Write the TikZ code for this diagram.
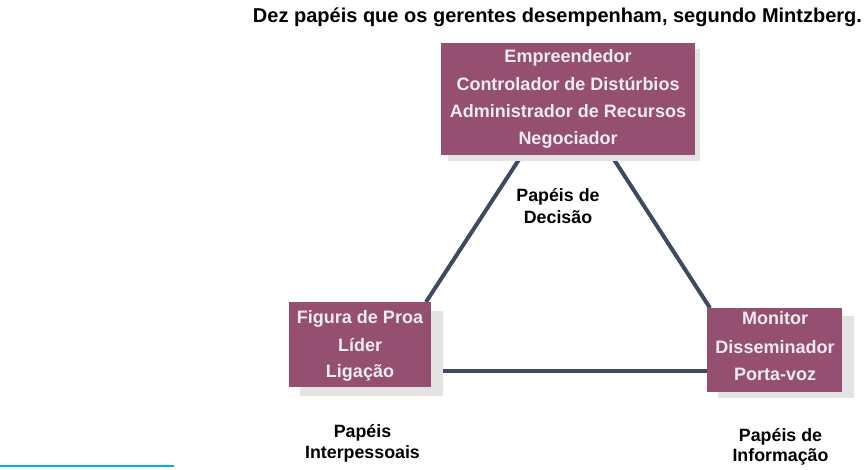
\documentclass[tikz,border=0pt]{standalone}
\usepackage{fontspec}
\setmainfont{Liberation Sans}
\definecolor{plum}{HTML}{954F70}
\definecolor{shade}{HTML}{E3E3E3}
\definecolor{edge}{HTML}{3E4B5F}
\definecolor{txt}{HTML}{EEECEE}
\definecolor{cyanline}{HTML}{00B0F0}
\begin{document}
\begin{tikzpicture}[x=1pt,y=-1pt,
  role/.style={fill=plum,draw=none},
  shadowbox/.style={fill=shade,draw=none},
  roletext/.style={text=txt,font=\bfseries\fontsize{18}{21}\selectfont,inner sep=0pt,anchor=base},
  grp/.style={text=black,font=\bfseries\fontsize{17.8}{21}\selectfont,inner sep=0pt,anchor=base},
  link/.style={draw=edge,line width=4pt}]
\useasboundingbox (0,0) rectangle (866,470);
% title
\node[font=\bfseries\fontsize{20}{24}\selectfont,inner sep=0pt,anchor=base] (title) at (557.5,23) {Dez papéis que os gerentes desempenham, segundo Mintzberg.};
% connectors (behind boxes)
\coordinate (tl) at (520,158);
\coordinate (tr) at (613,158);
\coordinate (lt) at (426,302);
\coordinate (rt) at (710,308);
\coordinate (lr) at (441,371);
\coordinate (rl) at (709,371);
\draw[link] (tl) -- (lt);
\draw[link] (tr) -- (rt);
\draw[link] (lr) -- (rl);
% shadows
\fill[shadowbox] (448,49) rectangle (700,161);
\fill[shadowbox] (300,311) rectangle (443,396);
\fill[shadowbox] (718,316) rectangle (854,398);
% boxes
\path[role] (441,43) rectangle (695,155);
\path[role] (289,302) rectangle (431,387);
\path[role] (707,308) rectangle (842,392);
% box texts
\node[roletext] (t1) at (568,63) {Empreendedor};
\node[roletext] (t2) at (568,91) {Controlador de Distúrbios};
\node[roletext] (t3) at (568,118) {Administrador de Recursos};
\node[roletext] (t4) at (568,145) {Negociador};
\node[roletext] (l1) at (360,323) {Figura de Proa};
\node[roletext] (l2) at (360,351) {Líder};
\node[roletext] (l3) at (360,377) {Ligação};
\node[roletext] (r1) at (775,324) {Monitor};
\node[roletext] (r2) at (775,353) {Disseminador};
\node[roletext] (r3) at (775,380) {Porta-voz};
% group labels
\node[grp] (d1) at (558,202) {Papéis de};
\node[grp] (d2) at (558,223) {Decisão};
\node[grp] (i1) at (362.5,437) {Papéis};
\node[grp] (i2) at (362.5,458) {Interpessoais};
\node[grp] (f1) at (780.5,441) {Papéis de};
\node[grp] (f2) at (780.5,461) {Informação};
% stray line
\coordinate (c1) at (0,466);
\coordinate (c2) at (174,466);
\draw[cyanline,line width=1.5pt] (c1) -- (c2);
\end{tikzpicture}
\end{document}
